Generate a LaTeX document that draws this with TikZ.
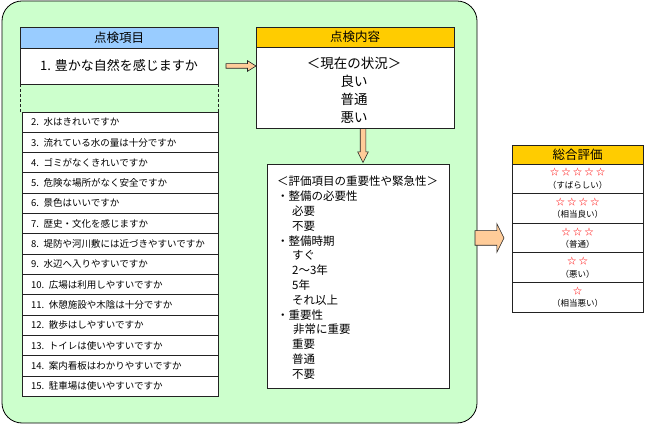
\documentclass[tikz,border=0pt]{standalone}
\usepackage{fontspec}
\setmainfont{Noto Sans CJK JP}
\usetikzlibrary{shapes.arrows,calc}
\definecolor{bggreen}{HTML}{CCFFCC}
\definecolor{hdblue}{HTML}{99CCFF}
\definecolor{hdyellow}{HTML}{FFCC00}
\definecolor{arrowfill}{HTML}{FFCC99}
\definecolor{edge}{HTML}{222222}
\definecolor{starred}{HTML}{FF0000}
\tikzset{
  box/.style={draw=edge, line width=0.8pt, inner sep=0pt, outer sep=0pt, anchor=north west, fill=white},
  itembox/.style={box, minimum width=196pt, minimum height=20.3pt, text width=178pt, inner xsep=9pt, align=left, font=\fontsize{9.5}{11}\selectfont},
  rowbox/.style={box, minimum width=131pt, minimum height=29.6pt, align=center, font=\fontsize{8.5}{12.5}\selectfont},
  blockarrow/.style={single arrow, draw=edge, fill=arrowfill, line width=0.6pt, outer sep=0pt, anchor=tip},
  hdfont/.style={font=\fontsize{12.5}{14}\selectfont},
}
\newcommand{\stars}[1]{{\color{starred}\fontsize{9}{10}\selectfont #1}}
\newcommand{\st}{☆\hspace{2.5pt}}
\begin{document}
\begin{tikzpicture}[x=1pt,y=-1pt]
\useasboundingbox (0,0) rectangle (650,427);
% green background panel
\draw[fill=bggreen, draw=black, line width=0.8pt, rounded corners=20pt] (2,1) rectangle (477,423);

% left column
\node[box, fill=hdblue, minimum width=198pt, minimum height=21pt, hdfont] (h1) at (20,27) {点検項目};
\node[box, minimum width=198pt, minimum height=36pt, font=\fontsize{13}{15}\selectfont] (q1) at (20,48) {1. 豊かな自然を感じますか};

\foreach \k/\t in {2/水はきれいですか, 3/流れている水の量は十分ですか, 4/ゴミがなくきれいですか, 5/危険な場所がなく安全ですか, 6/景色はいいですか, 7/歴史・文化を感じますか, 8/堤防や河川敷には近づきやすいですか, 9/水辺へ入りやすいですか, 10/広場は利用しやすいですか, 11/休憩施設や木陰は十分ですか, 12/散歩はしやすいですか, 13/トイレは使いやすいですか, 14/案内看板はわかりやすいですか, 15/駐車場は使いやすいですか}
  \node[itembox] (i\k) at (22,{112+(\k-2)*20.3}) {\k. \t};

\draw[draw=edge, line width=0.7pt, dash pattern=on 3pt off 2pt] (q1.south west) -- (q1.south west |- i2.north);
\draw[draw=edge, line width=0.7pt, dash pattern=on 3pt off 2pt] (q1.south east) -- (q1.south east |- i2.north);

% middle column
\node[box, fill=hdyellow, minimum width=198pt, minimum height=20pt, hdfont] (h2) at (256,27) {点検内容};
\node[box, minimum width=198pt, minimum height=81pt] (c1) at (256,47) {};
\node[align=center, inner sep=0pt, font=\fontsize{13.5}{18}\selectfont] (c1text) at (354,90) {＜現在の状況＞\\良い\\普通\\悪い};

\node[box, minimum width=182pt, minimum height=224pt] (e1) at (267,164) {};
\node[anchor=north west, inner sep=0pt, align=left, font=\fontsize{11.5}{14.8}\selectfont] (e1text) at (277,176) {＜評価項目の重要性や緊急性＞\\
・整備の必要性\\
\hspace*{15pt}必要\\
\hspace*{15pt}不要\\
・整備時期\\
\hspace*{15pt}すぐ\\
\hspace*{15pt}2～3年\\
\hspace*{15pt}5年\\
\hspace*{15pt}それ以上\\
・重要性\\
\hspace*{16pt}非常に重要\\
\hspace*{15pt}重要\\
\hspace*{15pt}普通\\
\hspace*{15pt}不要};

% right column
\node[box, fill=hdyellow, minimum width=131pt, minimum height=19pt, hdfont] (h3) at (512,145) {総合評価};
\node[rowbox] (r1) at (512,164) {\stars{\st\st\st\st☆}\\（すばらしい）};
\node[rowbox] (r2) at (512,193.6) {\stars{\st\st\st☆}\\（相当良い）};
\node[rowbox] (r3) at (512,223.2) {\stars{\st\st☆}\\（普通）};
\node[rowbox] (r4) at (512,252.8) {\stars{\st☆}\\（悪い）};
\node[rowbox] (r5) at (512,282.4) {\stars{☆}\\（相当悪い）};

% block arrows
\node[blockarrow, minimum height=30pt, inner xsep=0pt, inner ysep=2pt, single arrow head extend=3pt, single arrow tip angle=64] (a1) at (c1.west |- q1.east) {};
\node[blockarrow, minimum height=34pt, inner ysep=0pt, inner xsep=2.5pt, single arrow head extend=2.5pt, single arrow tip angle=53, shape border rotate=270] (a2) at ($(e1.north)+(5,-1.5)$) {};
\node[blockarrow, minimum height=29pt, inner xsep=0pt, inner ysep=7pt, single arrow head extend=7pt, single arrow tip angle=127] (a3) at ($(r3.west)+(-8,0)$) {};
\end{tikzpicture}
\end{document}
